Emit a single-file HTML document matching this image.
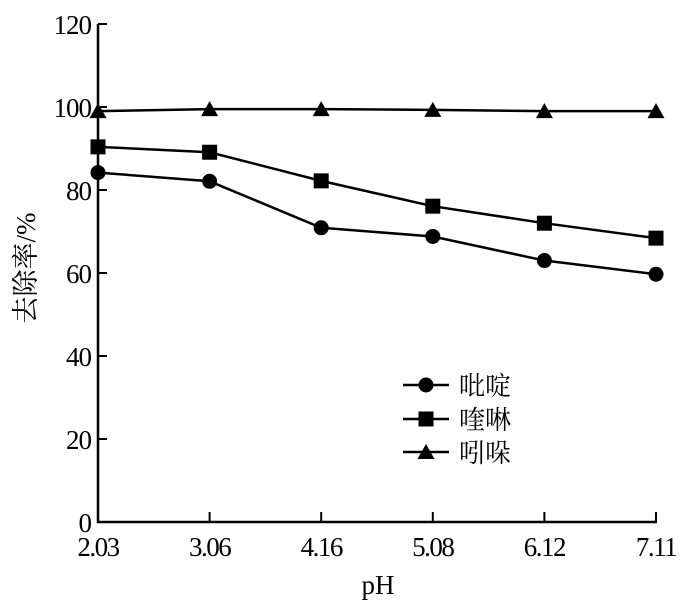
<!DOCTYPE html>
<html><head><meta charset="utf-8"><style>
body{margin:0;background:#fff}
svg{display:block}
text{font-family:"Liberation Serif","Noto Serif CJK SC",serif;fill:#000}
</style></head><body>
<svg id="chart" width="700" height="601" viewBox="0 0 700 601" xmlns="http://www.w3.org/2000/svg"></svg>
<script>
const categories=["2.03","3.06","4.16","5.08","6.12","7.11"];
const yTicks=[0,20,40,60,80,100,120];
const pyridine=[84.2,82.1,70.9,68.8,63.0,59.7];
const quinoline=[90.4,89.1,82.2,76.1,72.0,68.4];
const indole=[99.0,99.5,99.5,99.3,99.0,99.0];
const seriesNames=["吡啶","喹啉","吲哚"];

const svg=document.getElementById('chart');
const NS="http://www.w3.org/2000/svg";
const X0=98,X1=656,Y0=522,Y1=24,YMAX=120;
function xs(i){return X0+i*(X1-X0)/(categories.length-1);}
function ys(v){return Y0-v*(Y0-Y1)/YMAX;}
function mk(tag,attrs,parent){const e=document.createElementNS(NS,tag);for(const k in attrs)e.setAttribute(k,attrs[k]);(parent||svg).appendChild(e);return e;}

const axes=mk('g',{});


let a=mk('line',{x1:X0,y1:Y1,x2:X0,y2:Y0+1,stroke:'#000','stroke-width':2.5},axes);


a=mk('line',{x1:X0-1,y1:Y0,x2:X1+1,y2:Y0,stroke:'#000','stroke-width':2.5},axes);


yTicks.forEach(v=>{
  const t=mk('line',{x1:X0,y1:ys(v),x2:X0+9,y2:ys(v),stroke:'#000','stroke-width':2},axes);
  
  
  const l=mk('text',{x:X0-7,y:ys(v)+10,'text-anchor':'end','font-size':27,'letter-spacing':'-1'},axes);
  l.textContent=v;
  
  
});
categories.forEach((c,i)=>{
  const t=mk('line',{x1:xs(i),y1:Y0,x2:xs(i),y2:Y0-10,stroke:'#000','stroke-width':2},axes);
  
  
  const l=mk('text',{x:xs(i),y:Y0+34,'text-anchor':'middle','font-size':27,'letter-spacing':'-1.5'},axes);
  l.textContent=c;
  
  
});
let t=mk('text',{x:378,y:594,'text-anchor':'middle','font-size':27});
t.textContent='pH';


t=mk('text',{x:0,y:0,'text-anchor':'middle','font-size':27,transform:'translate(35,268) rotate(-90)'});
t.textContent='去除率/%';



function marker(type,x,y,g){
  let m;
  if(type==0)m=mk('circle',{cx:x,cy:y,r:7.5,fill:'#000'},g);
  else if(type==1)m=mk('rect',{x:x-7.5,y:y-7.5,width:15,height:15,fill:'#000'},g);
  else m=mk('polygon',{points:`${x},${y-8} ${x+8.5},${y+7} ${x-8.5},${y+7}`,fill:'#000'},g);
  return m;
}
[pyridine,quinoline,indole].forEach((data,s)=>{
  const g=mk('g',{});
  
  
  const p=mk('polyline',{points:data.map((v,i)=>xs(i)+','+ys(v)).join(' '),fill:'none',stroke:'#000','stroke-width':2.5},g);
  
  
  data.forEach((v,i)=>{
    const m=marker(s,xs(i),ys(v),g);
    
    
  });
});
const lg=mk('g',{});


[385,419,452].forEach((y,s)=>{
  const e=mk('g',{},lg);
  
  
  mk('line',{x1:403,y1:y,x2:449,y2:y,stroke:'#000','stroke-width':2.5},e);
  marker(s,426,y,e);
  const tx=mk('text',{x:459,y:y+10,'font-size':26},e);
  tx.textContent=seriesNames[s];
});
</script>
</body></html>
